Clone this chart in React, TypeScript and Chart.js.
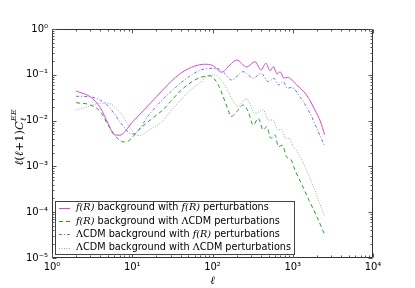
import { useEffect, useRef } from "react";
import { Chart, registerables } from "chart.js";

Chart.register(...registerables);

// ---------- data ----------
const seriesLabels = [
  "f(R) background with f(R) perturbations",
  "f(R) background with ΛCDM perturbations",
  "ΛCDM background with f(R) perturbations",
  "ΛCDM background with ΛCDM perturbations",
];

const fRfREll = [2, 3, 4, 5, 6, 7, 10, 20, 30, 40, 50, 60, 80, 100, 130, 165, 200, 267, 339, 402, 464, 520, 572, 642, 693, 778, 855, 1120, 1490, 1890, 2200, 2500];
const fRfRVal = [0.044, 0.033, 0.019, 0.0087, 0.0049, 0.0048, 0.0092, 0.033, 0.07, 0.108, 0.135, 0.155, 0.17, 0.16, 0.114, 0.164, 0.21, 0.148, 0.193, 0.127, 0.178, 0.123, 0.15, 0.104, 0.117, 0.084, 0.088, 0.06, 0.036, 0.017, 0.0098, 0.0049];

const fRLcdmEll = [2, 3, 4, 5, 6, 7, 8, 9, 12, 17, 24, 30, 40, 50, 60, 70, 93, 118, 136, 157, 170, 200, 242, 279, 322, 372, 430, 473, 536, 601, 661, 741, 841, 951, 1067, 1300, 1600, 2000, 2480];
const fRLcdmVal = [0.0246, 0.022, 0.0157, 0.008, 0.0049, 0.0037, 0.0034, 0.0036, 0.0062, 0.0105, 0.017, 0.026, 0.045, 0.062, 0.077, 0.087, 0.095, 0.06, 0.033, 0.017, 0.0122, 0.0156, 0.0219, 0.0156, 0.008, 0.0112, 0.0062, 0.0074, 0.0041, 0.0049, 0.0027, 0.0029, 0.0016, 0.0014, 0.00083, 0.0004, 0.00018, 0.00008, 0.000033];

const lcdmFREll = [2, 3, 4, 5, 6, 7, 8, 9, 10, 11, 16, 23, 30, 40, 50, 60, 70, 90, 113, 140, 173, 242, 322, 402, 496, 584, 661, 763, 855, 970, 1230, 1640, 2080, 2500];
const lcdmFRVal = [0.034, 0.033, 0.028, 0.021, 0.014, 0.0095, 0.007, 0.0055, 0.0051, 0.0053, 0.013, 0.027, 0.042, 0.066, 0.089, 0.11, 0.127, 0.137, 0.139, 0.11, 0.077, 0.117, 0.084, 0.108, 0.071, 0.084, 0.06, 0.071, 0.051, 0.053, 0.033, 0.0144, 0.0057, 0.0028];

const lcdmLcdmEll = [2, 3, 4, 5, 6, 7, 8, 9, 10, 11, 12.6, 14, 17.6, 23.5, 30, 40, 50, 60, 70, 90, 107, 130, 157, 182, 205, 265, 339, 430, 496, 572, 649, 728, 817, 906, 1016, 1120, 1294, 1500, 1800, 2100, 2500];
const lcdmLcdmVal = [0.017, 0.021, 0.024, 0.024, 0.02, 0.0152, 0.011, 0.0079, 0.006, 0.005, 0.0047, 0.0052, 0.0068, 0.0095, 0.016, 0.028, 0.042, 0.055, 0.067, 0.097, 0.099, 0.075, 0.043, 0.026, 0.0205, 0.03, 0.0144, 0.017, 0.0103, 0.0103, 0.0062, 0.0064, 0.0041, 0.0041, 0.0027, 0.0022, 0.0014, 0.0008, 0.00037, 0.00018, 0.00008];

const xTickValues = [1, 10, 100, 1000, 10000];
const yTickValues = [1e-5, 1e-4, 1e-3, 1e-2, 1e-1, 1];

// ---------- helpers ----------
const SUP: Record<string, string> = { "0": "⁰", "1": "¹", "2": "²", "3": "³", "4": "⁴", "5": "⁵", "6": "⁶", "7": "⁷", "8": "⁸", "9": "⁹", "-": "⁻" };
function powLabel(v: number): string {
  const e = Math.round(Math.log10(v));
  return "10" + String(e).split("").map((c) => SUP[c] || c).join("");
}

const SANS = "'DejaVu Sans', sans-serif";
const SERIF = "'DejaVu Serif', serif";

type Piece = { t: string; font: string };
function splitLabel(label: string, size: number): Piece[] {
  const out: Piece[] = [];
  const re = /(f\(R\)|Λ)/g;
  let last = 0;
  let m: RegExpExecArray | null;
  while ((m = re.exec(label))) {
    if (m.index > last) out.push({ t: label.slice(last, m.index), font: `${size}px ${SANS}` });
    if (m[0] === "Λ") out.push({ t: "Λ", font: `${size}px ${SERIF}` });
    else out.push({ t: m[0], font: `italic ${size}px ${SERIF}` });
    last = m.index + m[0].length;
  }
  if (last < label.length) out.push({ t: label.slice(last), font: `${size}px ${SANS}` });
  return out;
}

const framePlugin = {
  id: "frameTicks",
  afterDatasetsDraw(chart: any) {
    const ctx: CanvasRenderingContext2D = chart.ctx;
    const { left, right, top, bottom } = chart.chartArea;
    const xs = chart.scales.x;
    const ys = chart.scales.y;
    ctx.save();
    ctx.strokeStyle = "#333";
    ctx.lineWidth = 1;
    ctx.beginPath();
    const L = Math.round(left) + 0.5, R = Math.round(right) - 0.5;
    const T = Math.round(top) + 0.5, B = Math.round(bottom) - 0.5;
    ctx.rect(L, T, R - L, B - T);
    ctx.stroke();
    ctx.strokeStyle = "#555";
    ctx.beginPath();
    for (let k = 0; k <= 4; k++) {
      for (let m = 1; m <= 9; m++) {
        const v = m * Math.pow(10, k);
        if (v > 10000) continue;
        const len = m === 1 ? 4 : 2;
        const px = Math.round(xs.getPixelForValue(v)) + 0.5;
        ctx.moveTo(px, B); ctx.lineTo(px, B - len);
        ctx.moveTo(px, T); ctx.lineTo(px, T + len);
      }
    }
    for (let k = -5; k <= 0; k++) {
      for (let m = 1; m <= 9; m++) {
        const v = m * Math.pow(10, k);
        if (v > 1.0001) continue;
        const len = m === 1 ? 4 : 2;
        const py = Math.round(ys.getPixelForValue(v)) + 0.5;
        ctx.moveTo(L, py); ctx.lineTo(L + len, py);
        ctx.moveTo(R, py); ctx.lineTo(R - len, py);
      }
    }
    ctx.stroke();
    ctx.restore();
  },
  afterDraw(chart: any) {
    const ctx: CanvasRenderingContext2D = chart.ctx;
    const { left, top, bottom } = chart.chartArea;
    ctx.save();
    // ---- legend ----
    const bx = left + 3, by = 201, bw = 239, bh = 53;
    ctx.fillStyle = "#fff";
    ctx.fillRect(bx, by, bw, bh);
    ctx.strokeStyle = "#444";
    ctx.lineWidth = 1;
    ctx.strokeRect(Math.round(bx) + 0.5, by + 0.5, bw, bh);
    const rowY = [207.7, 221, 234.3, 247.7];
    chart.data.datasets.forEach((ds: any, i: number) => {
      const y = rowY[i];
      ctx.save();
      ctx.strokeStyle = ds.borderColor;
      ctx.lineWidth = ds.borderWidth;
      ctx.setLineDash(ds.borderDash || []);
      ctx.beginPath();
      ctx.moveTo(left + 7, Math.round(y) + 0.5);
      ctx.lineTo(left + 18, Math.round(y) + 0.5);
      ctx.stroke();
      ctx.restore();
      let x = left + 24;
      ctx.fillStyle = "#000";
      ctx.textBaseline = "middle";
      ctx.textAlign = "left";
      for (const p of splitLabel(ds.label, 9.7)) {
        ctx.font = p.font;
        ctx.fillText(p.t, x, y);
        x += ctx.measureText(p.t).width;
      }
    });
    // ---- y axis title ----
    const cy = (top + bottom) / 2 - 6;
    ctx.translate(19, cy);
    ctx.rotate(-Math.PI / 2);
    const big = 11.5;
    const parts: Piece[] = [
      { t: "ℓ", font: `italic ${big}px ${SERIF}` },
      { t: "(", font: `${big}px ${SERIF}` },
      { t: "ℓ", font: `italic ${big}px ${SERIF}` },
      { t: "+1)", font: `${big}px ${SERIF}` },
      { t: "C", font: `italic ${big}px ${SERIF}` },
    ];
    let tw = 0;
    for (const p of parts) { ctx.font = p.font; tw += ctx.measureText(p.t).width; }
    ctx.font = `italic 8px ${SERIF}`;
    const supW = ctx.measureText("EE").width;
    tw += supW;
    let x = -tw / 2;
    ctx.fillStyle = "#000";
    ctx.textBaseline = "alphabetic";
    ctx.textAlign = "left";
    for (const p of parts) { ctx.font = p.font; ctx.fillText(p.t, x, 4); x += ctx.measureText(p.t).width; }
    ctx.font = `italic 8px ${SERIF}`;
    ctx.fillText("ℓ", x, 7);
    ctx.fillText("EE", x, -3);
    ctx.restore();
  },
};

function makeData(ell: number[], val: number[]) {
  return ell.map((x, i) => ({ x, y: val[i] }));
}

export default function App() {
  const ref = useRef<HTMLCanvasElement | null>(null);
  useEffect(() => {
    document.body.style.margin = "0";
    const canvas = ref.current;
    if (!canvas) return;
    const common = { pointRadius: 0, borderWidth: 1, fill: false, cubicInterpolationMode: "monotone" as const };
    const chart = new Chart(canvas, {
      type: "line",
      data: {
        datasets: [
          { ...common, label: seriesLabels[0], data: makeData(fRfREll, fRfRVal), borderColor: "#d548d5", borderDash: [] },
          { ...common, label: seriesLabels[1], data: makeData(fRLcdmEll, fRLcdmVal), borderColor: "#2f9a2f", borderDash: [4, 3] },
          { ...common, label: seriesLabels[2], data: makeData(lcdmFREll, lcdmFRVal), borderColor: "#6b6bff", borderDash: [3, 2, 1, 2] },
          { ...common, label: seriesLabels[3], data: makeData(lcdmLcdmEll, lcdmLcdmVal), borderColor: "#a5a5a5", borderDash: [1, 1.5] },
        ],
      },
      options: {
        responsive: false,
        animation: false,
        parsing: false as any,
        layout: { padding: { left: 0, top: 29, right: 42, bottom: 0 } },
        plugins: { legend: { display: false }, tooltip: { enabled: false }, title: { display: false } },
        scales: {
          x: {
            type: "logarithmic",
            min: 1,
            max: 10000,
            position: "bottom",
            afterBuildTicks: (s: any) => { s.ticks = xTickValues.map((v) => ({ value: v })); },
            afterFit: (s: any) => { s.height = 30; },
            grid: { display: false, drawTicks: false },
            border: { display: false },
            ticks: { callback: (v: any) => powLabel(Number(v)), font: { family: SANS, size: 10 }, color: "#000", padding: 3, maxRotation: 0, autoSkip: false },
            title: { display: true, text: "ℓ", font: { family: SERIF, style: "italic", size: 11 }, color: "#000", padding: { top: 0, bottom: 0 } },
          },
          y: {
            type: "logarithmic",
            min: 1e-5,
            max: 1,
            afterBuildTicks: (s: any) => { s.ticks = yTickValues.map((v) => ({ value: v })); },
            afterFit: (s: any) => { s.width = 52; },
            grid: { display: false, drawTicks: false },
            border: { display: false },
            ticks: { callback: (v: any) => powLabel(Number(v)), font: { family: SANS, size: 10 }, color: "#000", padding: 4, autoSkip: false },
          },
        },
      },
      plugins: [framePlugin],
    });
    return () => chart.destroy();
  }, []);
  return <canvas ref={ref} width={415} height={288} style={{ display: "block" }} />;
}
